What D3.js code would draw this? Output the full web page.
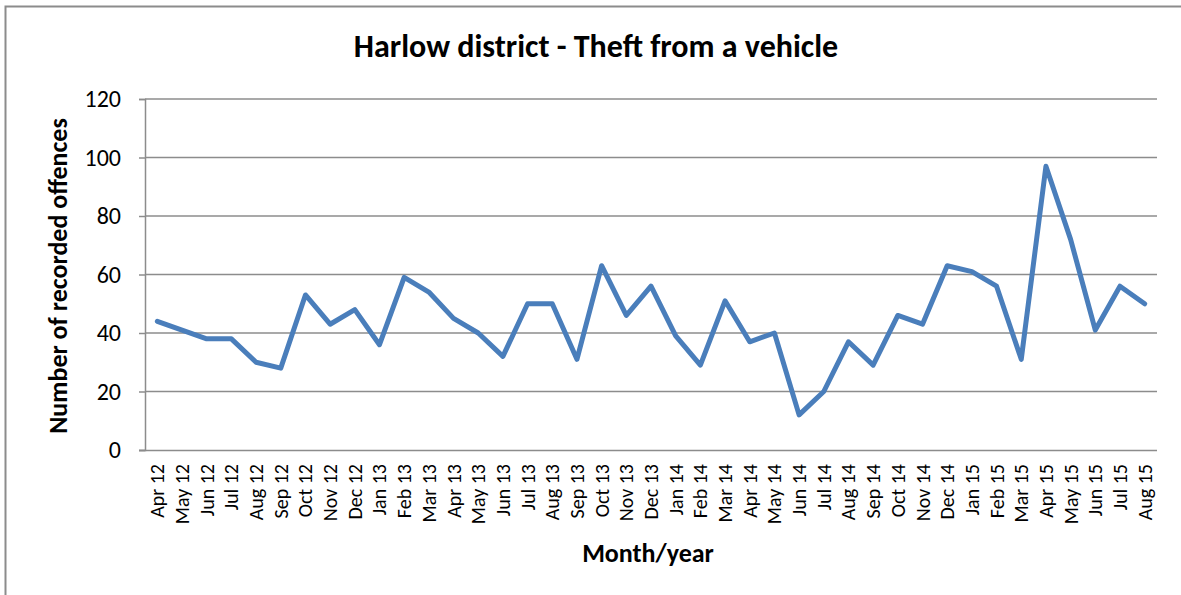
<!DOCTYPE html>
<html>
<head>
<meta charset="utf-8">
<script src="https://cdn.jsdelivr.net/npm/d3@7"></script>
<style>
  body { margin: 0; background: #fff; }
  svg { display: block; font-family: Carlito, Lato, "Liberation Sans", sans-serif; }
</style>
</head>
<body>
<svg id="chart" width="1181" height="595"></svg>
<script>
// months shown on the x axis
const months = [
  "Apr 12","May 12","Jun 12","Jul 12","Aug 12","Sep 12","Oct 12","Nov 12","Dec 12",
  "Jan 13","Feb 13","Mar 13","Apr 13","May 13","Jun 13","Jul 13","Aug 13","Sep 13","Oct 13","Nov 13","Dec 13",
  "Jan 14","Feb 14","Mar 14","Apr 14","May 14","Jun 14","Jul 14","Aug 14","Sep 14","Oct 14","Nov 14","Dec 14",
  "Jan 15","Feb 15","Mar 15","Apr 15","May 15","Jun 15","Jul 15","Aug 15"
]
// recorded offences per month
const offences = [
  44,41,38,38,30,28,53,43,48,
  36,59,54,45,40,32,50,50,31,63,46,56,
  39,29,51,37,40,12,20,37,29,46,43,63,
  61,56,31,97,72,41,56,50
]
const yTicks = [0,20,40,60,80,100,120]

const title = "Harlow district - Theft from a vehicle"
const xTitle = "Month/year"
const yTitle = "Number of recorded offences"

const svg = d3.select("#chart")

// outer chart frame (only top and left edges visible)
svg.append("path")
  .attr("d", "M5.5,595 V6.5 H1181")
  .attr("fill", "none")
  .attr("stroke", "#8c8c8c")
  .attr("stroke-width", 2)

const plotL = 145, plotR = 1157, plotT = 99, plotB = 450

const x = d3.scaleBand().domain(months).range([plotL, plotR])
const y = d3.scaleLinear().domain([0, 120]).range([plotB, plotT])

// gridlines
svg.append("g")
  .selectAll("line")
  .data(yTicks.filter(d => d > 0))
  .join("line")
  .attr("x1", plotL).attr("x2", plotR)
  .attr("y1", d => y(d)).attr("y2", d => y(d))
  .attr("stroke", "#8c8c8c")
  .attr("stroke-width", 1.5)

// y axis
const yAxis = svg.append("g")
  .attr("transform", `translate(${plotL},0)`)
  .call(d3.axisLeft(y).tickValues(yTicks).tickSize(6).tickPadding(18))
yAxis.select(".domain").attr("stroke", "#8c8c8c").attr("stroke-width", 1.5)
yAxis.selectAll(".tick line").attr("stroke", "#8c8c8c").attr("stroke-width", 1.5)
yAxis.selectAll("text")
  .attr("font-family", "Carlito, Lato, sans-serif")
  .attr("font-size", 24)
  .attr("fill", "#000")

// x axis
const xAxis = svg.append("g")
  .attr("transform", `translate(0,${plotB})`)
  .call(d3.axisBottom(x).tickSize(0).tickPadding(0).tickSizeOuter(0))
xAxis.select(".domain")
  .attr("d", `M${plotL - 6},0.5H${plotR}`)
  .attr("stroke", "#8c8c8c").attr("stroke-width", 1.5)
xAxis.selectAll("text")
  .attr("font-family", "Carlito, Lato, sans-serif")
  .attr("font-size", 20)
  .attr("fill", "#000")
  .attr("text-anchor", "end")
  .attr("dy", "0.35em")
  .attr("transform", "translate(0,14) rotate(-90)")
  .attr("y", 0)
  .attr("x", 0)

// the series line
const line = d3.line()
  .x((d, i) => x(months[i]) + x.bandwidth() / 2)
  .y(d => y(d))

svg.append("path")
  .datum(offences)
  .attr("d", line)
  .attr("fill", "none")
  .attr("stroke", "#4a7ebb")
  .attr("stroke-width", 5)
  .attr("stroke-linejoin", "round")
  .attr("stroke-linecap", "round")

// titles
svg.append("text")
  .attr("x", 596).attr("y", 57)
  .attr("text-anchor", "middle")
  .attr("font-size", 32).attr("font-weight", "bold")
  .text(title)

svg.append("text")
  .attr("x", 648).attr("y", 562)
  .attr("text-anchor", "middle")
  .attr("font-size", 26).attr("font-weight", "bold")
  .text(xTitle)

svg.append("text")
  .attr("transform", "translate(67,276) rotate(-90)")
  .attr("text-anchor", "middle")
  .attr("font-size", 26).attr("font-weight", "bold")
  .text(yTitle)
</script>
</body>
</html>
